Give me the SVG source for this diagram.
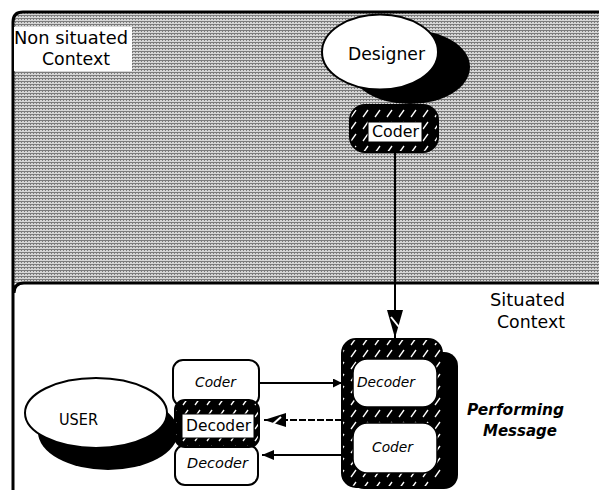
<svg xmlns="http://www.w3.org/2000/svg" width="599" height="490" viewBox="0 0 599 490">
<defs>
<style>
.t{font-family:"DejaVu Sans","Liberation Sans",sans-serif;fill:#000}
.i{font-style:italic}
.b{font-weight:bold}
.edge{stroke:#000;stroke-width:2;fill:none}
.wbox{fill:#fff;stroke:#000;stroke-width:2}
.hbox{fill:url(#hatch);stroke:#000;stroke-width:2}
.lbl{fill:#fff;stroke:#000;stroke-width:1}
</style>
<pattern id="grain" patternUnits="userSpaceOnUse" width="3" height="3">
<rect width="3" height="3" fill="#d6d6d6"/>
<rect width="3" height="1" fill="#7c7c7c"/>
<rect y="1" width="1" height="1" fill="#7c7c7c"/>
</pattern>
<pattern id="hatch" patternUnits="userSpaceOnUse" width="12" height="12">
<rect width="12" height="12" fill="#000"/>
<path d="M3,9 L8,2" stroke="#fff" stroke-width="1.3"/>
</pattern>
<marker id="ahSmall" markerUnits="userSpaceOnUse" viewBox="0 0 9 9" refX="9" refY="4.5" markerWidth="9" markerHeight="9" orient="auto"><path d="M0,0 L9,4.5 L0,9 Z" fill="#000"/></marker>
<marker id="ahFill" markerUnits="userSpaceOnUse" viewBox="0 0 12 10" refX="12" refY="5" markerWidth="12" markerHeight="10" orient="auto"><path d="M0,0 L12,5 L0,10 Z" fill="#000"/></marker>
<marker id="ahHatchL" markerUnits="userSpaceOnUse" viewBox="0 0 28 16" refX="28" refY="8" markerWidth="28" markerHeight="16" orient="auto"><path d="M0,0 L28,8 L0,16 Z" fill="#000"/><path d="M7,12 L17,4" stroke="#fff" stroke-width="2"/></marker>
<marker id="ahHatchS" markerUnits="userSpaceOnUse" viewBox="0 0 22 14" refX="22" refY="7" markerWidth="22" markerHeight="14" orient="auto"><path d="M0,0 L22,7 L0,14 Z" fill="#000"/><path d="M5,10 L13,3" stroke="#fff" stroke-width="2"/></marker>
</defs>
<rect width="599" height="490" fill="#fff"/>

<g id="non-situated-context">
<path d="M13,283 V22 Q13,12 23,12 H599 V283 Z" fill="url(#grain)"/>
<path d="M13,283 V22 Q13,12 23,12 H599" fill="none" stroke="#000" stroke-width="3"/>
<rect x="14" y="27" width="118" height="44" fill="#fff"/>
<text class="t" x="14" y="44" font-size="17" textLength="114" lengthAdjust="spacingAndGlyphs">Non situated</text>
<text class="t" x="42" y="65" font-size="17" textLength="68" lengthAdjust="spacingAndGlyphs">Context</text>
</g>

<g id="situated-context">
<path d="M14,490 V293 Q14,283 24,283 H599 V490 Z" fill="#fff"/>
<path d="M13,490 V283 M14,293 Q14,283 24,283 H599" fill="none" stroke="#000" stroke-width="3"/>
<text class="t" x="490" y="306" font-size="17" textLength="75" lengthAdjust="spacingAndGlyphs">Situated</text>
<text class="t" x="497" y="328" font-size="17" textLength="68" lengthAdjust="spacingAndGlyphs">Context</text>
</g>

<g id="designer">
<ellipse cx="410" cy="67" rx="60" ry="37" fill="#000"/>
<ellipse cx="380" cy="52" rx="58" ry="37.5" fill="#fff" stroke="#000" stroke-width="2"/>
<text class="t" x="348" y="60" font-size="17" textLength="77" lengthAdjust="spacingAndGlyphs">Designer</text>
</g>

<g id="designer-coder">
<rect class="hbox" x="350" y="105" width="88" height="47" rx="15"/>
<rect class="lbl" x="368" y="122" width="54" height="20"/>
<text class="t" x="372" y="137" font-size="16" textLength="47" lengthAdjust="spacingAndGlyphs">Coder</text>
</g>

<g id="user">
<ellipse cx="108" cy="432" rx="70" ry="38" fill="#000"/>
<ellipse cx="96" cy="413" rx="71" ry="35" fill="#fff" stroke="#000" stroke-width="2"/>
<text class="t" x="59" y="425" font-size="16" textLength="39" lengthAdjust="spacingAndGlyphs">USER</text>
</g>

<g id="user-coder">
<rect class="wbox" x="173" y="360" width="86" height="46" rx="10"/>
<text class="t i" x="195" y="387" font-size="14" textLength="41" lengthAdjust="spacingAndGlyphs">Coder</text>
</g>

<g id="user-decoder-plain">
<rect class="wbox" x="175" y="445" width="83" height="40" rx="10"/>
<text class="t i" x="187" y="468" font-size="14.5" textLength="61" lengthAdjust="spacingAndGlyphs">Decoder</text>
</g>

<g id="user-decoder-hatched">
<rect class="hbox" x="175" y="400" width="84" height="47" rx="10"/>
<rect class="lbl" x="182" y="414" width="72" height="24"/>
<text class="t" x="186" y="431" font-size="16" textLength="65" lengthAdjust="spacingAndGlyphs">Decoder</text>
</g>

<g id="performing-message">
<rect x="350" y="352" width="108" height="137" rx="14" fill="#000"/>
<rect class="hbox" x="342" y="339" width="100" height="148" rx="14"/>
<rect x="353" y="359" width="84" height="48" rx="14" fill="#fff" stroke="#000" stroke-width="1.5"/>
<text class="t i" x="357" y="387" font-size="14" textLength="58" lengthAdjust="spacingAndGlyphs">Decoder</text>
<rect x="353" y="423" width="84" height="50" rx="14" fill="#fff" stroke="#000" stroke-width="1.5"/>
<text class="t i" x="372" y="452" font-size="14" textLength="41" lengthAdjust="spacingAndGlyphs">Coder</text>
<text class="t i b" x="467" y="415" font-size="16" textLength="97" lengthAdjust="spacingAndGlyphs">Performing</text>
<text class="t i b" x="483" y="436" font-size="16" textLength="74" lengthAdjust="spacingAndGlyphs">Message</text>
</g>

<g id="connectors">
<line class="edge" x1="395" y1="152" x2="395" y2="338" marker-end="url(#ahHatchL)"/>
<line class="edge" x1="260" y1="383" x2="342" y2="383" marker-end="url(#ahSmall)"/>
<line class="edge" x1="342" y1="420" x2="264" y2="420" stroke-dasharray="7 2" marker-end="url(#ahHatchS)"/>
<line class="edge" x1="342" y1="455" x2="262" y2="455" marker-end="url(#ahFill)"/>
</g>
</svg>
